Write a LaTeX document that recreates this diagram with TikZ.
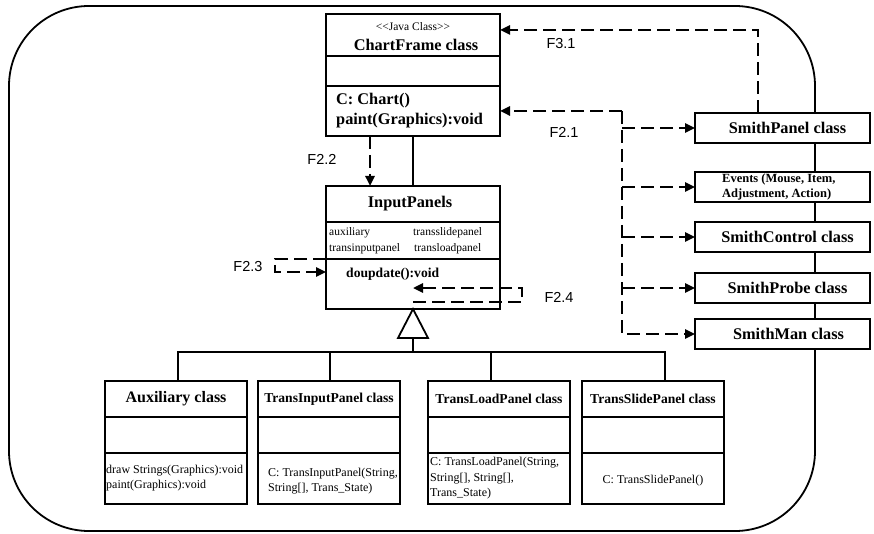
\documentclass[tikz,border=0pt]{standalone}
\usepackage{fontspec}
\setmainfont{Liberation Serif}
\newfontfamily\flowfont{Liberation Sans}
\usetikzlibrary{positioning,arrows.meta}

\begin{document}
\begin{tikzpicture}[x=1pt, y=-1pt,
  part/.style={rectangle, draw, line width=1.8pt, fill=white, inner sep=0pt, outer sep=0pt},
  wide/.style={part, minimum width=174pt},
  small/.style={part, minimum width=142pt},
  smith/.style={part, minimum width=175pt, minimum height=30pt},
  link/.style={line width=1.8pt},
  flow/.style={line width=2.4pt, dash pattern=on 13pt off 6pt, -{Triangle[length=10pt,width=9pt]}},
  flab/.style={font=\flowfont\fontsize{14.5}{16}\selectfont},
  big/.style={font=\bfseries\fontsize{16.3}{20}\selectfont, align=left},
  mid/.style={font=\bfseries\fontsize{13.6}{16}\selectfont},
  txt/.style={font=\fontsize{12}{15}\selectfont, align=left, inner sep=0pt},
  tiny/.style={font=\fontsize{11.5}{13}\selectfont, inner sep=0pt}]

\useasboundingbox (0,0) rectangle (874,534);

\draw [link, rounded corners=80pt] (9,6) rectangle (815,531);

\draw (413,14) node (cfhead) [wide, anchor=north, minimum height=42pt] {};
\draw (cfhead.south) node (cfattr) [wide, anchor=north, minimum height=30pt] {};
\draw (cfattr.south) node (cfops) [wide, anchor=north, minimum height=50pt] {};
\draw ([yshift=8pt]cfhead.center) node [tiny] {<\kern0pt<Java Class>\kern0pt>};
\draw ([xshift=3pt,yshift=-10pt]cfhead.center) node [big] {ChartFrame class};
\draw ([xshift=10pt]cfops.west) node [big, anchor=west, inner sep=0pt] {C: Chart()\\paint(Graphics):void};

\draw (413,186) node (iphead) [wide, anchor=north, minimum height=36pt] {};
\draw (iphead.south) node (ipattr) [wide, anchor=north, minimum height=37pt] {};
\draw (ipattr.south) node (ipops) [wide, anchor=north, minimum height=50pt] {};
\draw ([xshift=-3pt]iphead.center) node [big] {InputPanels};
\draw ([xshift=3pt,yshift=8pt]ipattr.west) node [tiny, anchor=west] {auxiliary};
\draw ([xshift=3pt,yshift=-8pt]ipattr.west) node [tiny, anchor=west] {transinputpanel};
\draw ([yshift=8pt]ipattr.center) node [tiny, anchor=west] {transslidepanel};
\draw ([xshift=1pt,yshift=-8pt]ipattr.center) node [tiny, anchor=west] {transloadpanel};
\draw ([xshift=20pt,yshift=10pt]ipops.west) node [mid, anchor=west, inner sep=0pt] {doupdate():void};

\draw [link] (cfops.south) -- (iphead.north);
\draw [flow] ([xshift=-43pt]cfops.south) -- ([xshift=-43pt]iphead.north);
\draw (322,159) node [flab] {F2.2};

\draw [flow] (ipattr.south west) -- ++(-51,0) |- ([yshift=12pt]ipops.west);
\draw (248,267) node [flab] {F2.3};

\draw [flow] ([yshift=-18pt]ipops.center) -- ++(109,0) |- ([yshift=-4pt]ipops.center);
\draw (559,297) node [flab] {F2.4};

\draw (176,381) node (auxhead) [small, anchor=north, minimum height=36pt] {};
\node (auxattr) [small, minimum height=36pt, below=0pt of auxhead] {};
\node (auxops) [small, minimum height=51pt, below=0pt of auxattr] {};
\node (tihead) [small, minimum height=36pt, right=11pt of auxhead] {};
\node (tiattr) [small, minimum height=36pt, below=0pt of tihead] {};
\node (tiops) [small, minimum height=51pt, below=0pt of tiattr] {};
\node (tlhead) [small, minimum height=36pt, right=28pt of tihead] {};
\node (tlattr) [small, minimum height=36pt, below=0pt of tlhead] {};
\node (tlops) [small, minimum height=51pt, below=0pt of tlattr] {};
\node (tshead) [small, minimum height=36pt, right=12pt of tlhead] {};
\node (tsattr) [small, minimum height=36pt, below=0pt of tshead] {};
\node (tsops) [small, minimum height=51pt, below=0pt of tsattr] {};

\draw (auxhead) node [font=\bfseries\fontsize{16}{18}\selectfont] {Auxiliary class};
\draw (tihead) node [mid] {TransInputPanel class};
\draw (tlhead) node [mid] {TransLoadPanel class};
\draw (tshead) node [mid] {TransSlidePanel class};
\draw ([xshift=1pt]auxops.west) node [txt, anchor=west] {draw Strings(Graphics):void\\paint(Graphics):void};
\draw ([xshift=10pt,yshift=-3pt]tiops.west) node [txt, anchor=west] {C: TransInputPanel(String,\\String[], Trans\_State)};
\draw ([xshift=2pt]tlops.west) node [txt, anchor=west, font=\fontsize{12}{15.5}\selectfont] {C: TransLoadPanel(String,\\String[], String[],\\Trans\_State)};
\draw ([yshift=-2pt]tsops.center) node [txt] {C: TransSlidePanel()};

\path (ipops.south) -- +(0,29) coordinate (gbase);
\path (gbase) -- +(0,14) coordinate (gbar);
\draw [link, line join=miter] (ipops.south) -- ([xshift=15pt]gbase) -- ([xshift=-15pt]gbase) -- cycle;
\draw [link] (gbase) -- (gbar);
\draw [link] ([xshift=2pt]auxhead.north) |- (gbar) -| ([xshift=12pt]tshead.north);
\draw [link] ([xshift=1pt]tihead.north) |- (gbar);
\draw [link] ([xshift=-8pt]tlhead.north) |- (gbar);

\draw (782.5,128) node (smpanel) [smith] {};
\node (smevents) [smith, below=29pt of smpanel] {};
\node (smcontrol) [smith, below=20pt of smevents] {};
\node (smprobe) [smith, below=21pt of smcontrol] {};
\node (smman) [smith, below=16pt of smprobe] {};
\draw ([xshift=5pt]smpanel.center) node [big] {SmithPanel class};
\draw ([xshift=27pt]smevents.west) node [anchor=west, align=left, inner sep=0pt, font=\bfseries\fontsize{12.5}{15}\selectfont] {Events (Mouse, Item,\\Adjustment, Action)};
\draw ([xshift=5pt]smcontrol.center) node [big] {SmithControl class};
\draw ([xshift=5pt]smprobe.center) node [big] {SmithProbe class};
\draw ([xshift=6pt]smman.center) node [big] {SmithMan class};

\draw [flow] ([xshift=-24.5pt]smpanel.north) |- ([yshift=5pt]cfhead.east);
\draw (561,44) node [flab] {F3.1};

\path (cfops.east) -- +(122,0) coordinate (bus);
\draw [flow] (bus) -- (cfops.east);
\draw [flow] (bus) |- (smman.west);
\draw [flow] (bus |- smpanel.west) -- (smpanel.west);
\draw [flow] (bus |- smevents.west) -- (smevents.west);
\draw [flow] (bus |- smcontrol.west) -- (smcontrol.west);
\draw [flow] (bus |- smprobe.west) -- (smprobe.west);
\draw (564,132) node [flab] {F2.1};

\end{tikzpicture}
\end{document}
